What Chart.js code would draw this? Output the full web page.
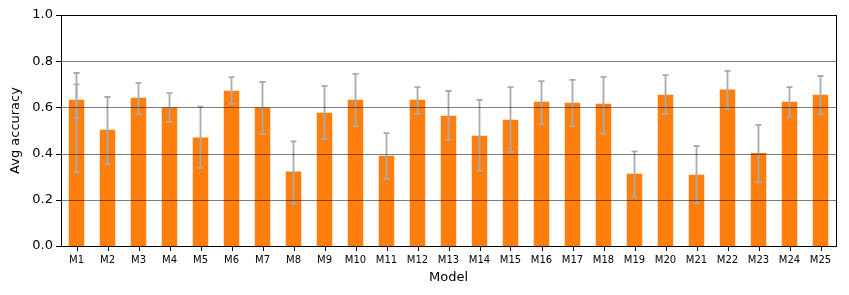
<!DOCTYPE html>
<html>
<head>
<meta charset="utf-8">
<script src="https://cdn.jsdelivr.net/npm/chart.js@4.4.0/dist/chart.umd.min.js"></script>
<style>
  html, body { margin: 0; padding: 0; background: #fff; }
  #wrap { width: 849px; height: 295px; }
</style>
</head>
<body>
<div id="wrap"><canvas id="barChart" width="849" height="295"></canvas></div>
<script>
// Data
const models = ['M1','M2','M3','M4','M5','M6','M7','M8','M9','M10','M11','M12','M13',
  'M14','M15','M16','M17','M18','M19','M20','M21','M22','M23','M24','M25'];
const avgAccuracy = [0.633, 0.503, 0.642, 0.600, 0.470, 0.672, 0.600, 0.322, 0.577, 0.633,
  0.391, 0.633, 0.564, 0.477, 0.547, 0.625, 0.620, 0.616, 0.313, 0.655, 0.308, 0.677,
  0.403, 0.625, 0.655];
const errLow = [0.320, 0.355, 0.571, 0.537, 0.338, 0.615, 0.485, 0.183, 0.463, 0.519,
  0.290, 0.571, 0.459, 0.325, 0.407, 0.528, 0.519, 0.485, 0.212, 0.571, 0.186, 0.593,
  0.277, 0.558, 0.571];
const errHigh = [0.749, 0.645, 0.706, 0.662, 0.603, 0.731, 0.710, 0.453, 0.693, 0.745,
  0.489, 0.688, 0.671, 0.633, 0.688, 0.714, 0.719, 0.732, 0.410, 0.740, 0.433, 0.758,
  0.524, 0.688, 0.736];
// M1 shows a second, inner pair of caps
const innerLow = [0.555, null, null, null, null, null, null, null, null, null, null, null, null,
  null, null, null, null, null, null, null, null, null, null, null, null];
const innerHigh = [0.700, null, null, null, null, null, null, null, null, null, null, null, null,
  null, null, null, null, null, null, null, null, null, null, null, null];
const yTicks = [0, 0.2, 0.4, 0.6, 0.8, 1.0];

// error bars, grid on top of the bars, tick marks and the box round the plot
const overlayPlugin = {
  id: 'overlay',
  afterDatasetsDraw(chart) {
    const ctx = chart.ctx;
    const x = chart.scales.x;
    const y = chart.scales.y;
    const area = chart.chartArea;

    ctx.save();
    // error bars
    ctx.strokeStyle = '#aaaaaa';
    ctx.lineWidth = 1.8;
    const cap = 3;
    const drawErr = (lo, hi, i) => {
      const px = x.getPixelForValue(i);
      const y1 = y.getPixelForValue(lo);
      const y2 = y.getPixelForValue(hi);
      ctx.beginPath();
      ctx.moveTo(px, y1); ctx.lineTo(px, y2);
      ctx.moveTo(px - cap, y1); ctx.lineTo(px + cap, y1);
      ctx.moveTo(px - cap, y2); ctx.lineTo(px + cap, y2);
      ctx.stroke();
    };
    models.forEach((m, i) => {
      drawErr(errLow[i], errHigh[i], i);
      if (innerLow[i] !== null) drawErr(innerLow[i], innerHigh[i], i);
    });

    // horizontal grid lines (drawn over the bars)
    ctx.strokeStyle = 'rgba(0,0,0,0.5)';
    ctx.lineWidth = 1;
    yTicks.forEach(v => {
      if (v === 0 || v === 1) return;
      const py = Math.round(y.getPixelForValue(v)) + 0.5;
      ctx.beginPath();
      ctx.moveTo(area.left, py); ctx.lineTo(area.right, py);
      ctx.stroke();
    });

    // tick marks
    ctx.strokeStyle = '#000';
    ctx.beginPath();
    yTicks.forEach(v => {
      const py = Math.round(y.getPixelForValue(v)) + 0.5;
      ctx.moveTo(area.left - 5, py); ctx.lineTo(area.left, py);
    });
    models.forEach((m, i) => {
      const px = Math.round(x.getPixelForValue(i)) + 0.5;
      ctx.moveTo(px, area.bottom); ctx.lineTo(px, area.bottom + 5);
    });
    ctx.stroke();

    // frame
    ctx.strokeRect(Math.round(area.left) + 0.5, Math.round(area.top) + 0.5,
      Math.round(area.right - area.left), Math.round(area.bottom - area.top));
    ctx.restore();
  }
};

const ctx = document.getElementById('barChart').getContext('2d');
new Chart(ctx, {
  type: 'bar',
  data: {
    labels: models,
    datasets: [{
      label: 'Avg accuracy',
      data: avgAccuracy,
      backgroundColor: '#ff7f0e',
      borderWidth: 0,
      barPercentage: 0.5,
      categoryPercentage: 1.0
    }]
  },
  options: {
    responsive: false,
    animation: false,
    layout: { padding: { top: 15, right: 13, left: 8, bottom: 10 } },
    plugins: {
      legend: { display: false },
      tooltip: { enabled: false }
    },
    scales: {
      x: {
        grid: { display: false },
        border: { display: false },
        ticks: { color: '#000', font: { family: 'DejaVu Sans', size: 10 }, maxRotation: 0, autoSkip: false, padding: 0 },
        title: { display: true, text: 'Model', color: '#000', font: { family: 'DejaVu Sans', size: 13 }, padding: { top: 2, bottom: 0 } },
        afterFit(s) { s.height = 39; }
      },
      y: {
        min: 0,
        max: 1.0,
        grid: { display: false },
        border: { display: false },
        afterBuildTicks(s) { s.ticks = yTicks.map(v => ({ value: v })); },
        ticks: {
          color: '#000',
          font: { family: 'DejaVu Sans', size: 13 },
          padding: 0,
          callback: v => v.toFixed(1)
        },
        title: { display: true, text: 'Avg accuracy', color: '#000', font: { family: 'DejaVu Sans', size: 13 }, padding: { top: 0, bottom: 4 } },
        afterFit(s) { s.width = 53; }
      }
    }
  },
  plugins: [overlayPlugin]
});
</script>
</body>
</html>
